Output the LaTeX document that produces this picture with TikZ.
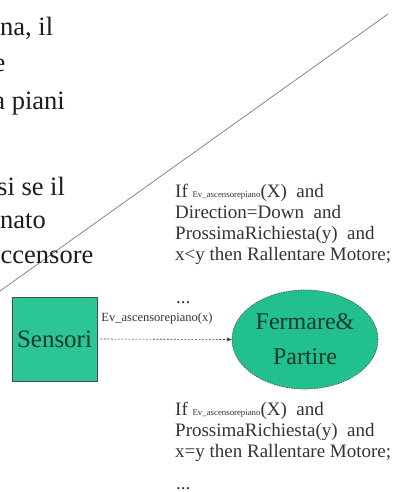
\documentclass[tikz,border=0pt]{standalone}
\usepackage{fontspec}
\setmainfont{Liberation Serif}
\usetikzlibrary{shapes.geometric,arrows.meta}
\definecolor{teal1}{HTML}{2BC596}
\definecolor{teal2}{HTML}{22C08F}
\definecolor{inkdark}{HTML}{1C1C1C}
\definecolor{inkgray}{HTML}{333333}
\definecolor{textgreen}{HTML}{12382A}
\definecolor{rulegray}{HTML}{7A7A7A}
\tikzset{
  bigtxt/.style={anchor=base west, inner sep=0pt, text=inkdark,
    font=\fontsize{26.5}{30}\selectfont},
  ruletxt/.style={anchor=base west, inner sep=0pt, text=inkgray,
    font=\fontsize{19}{22}\selectfont},
  sensorbox/.style={draw=black!70, fill=teal1, line width=0.6pt,
    minimum width=85pt, minimum height=84pt, inner sep=0pt,
    text=textgreen, font=\fontsize{25}{28}\selectfont},
  taskellipse/.style={ellipse, draw=black!65, dashed, dash pattern=on 1.5pt off 1pt,
    fill=teal2, line width=0.7pt, minimum width=146pt, minimum height=99pt,
    inner sep=0pt, align=center, text=textgreen,
    font=\fontsize{24}{35}\selectfont},
  eventarrow/.style={draw=black!75, dash pattern=on 2pt off 1.5pt, line width=0.6pt,
    -{Stealth[length=5pt,width=4pt]}},
  eventlabel/.style={inner sep=0pt, text=inkgray, font=\fontsize{12.5}{14}\selectfont},
}
\newcommand{\evsmall}{{\fontsize{8.8}{10}\selectfont Ev\_ascensorepiano}}
\begin{document}
\begin{tikzpicture}[x=1pt,y=-1pt]
  \useasboundingbox (0,0) rectangle (401,492);
  \clip (0,0) rectangle (401,492);
  \fill[white] (0,0) rectangle (401,492);

  % diagonal rule behind the text
  \coordinate (d1) at (0,291);
  \coordinate (d2) at (388,14);
  \draw[rulegray, line width=0.7pt] (d1) -- (d2);

  % slide text, cut at the left edge
  \node[bigtxt] (t1) at (0,36) {na, il};
  \node[bigtxt, anchor=base east] (t2) at (5.5,72) {e};
  \node[bigtxt, anchor=base east] (t3) at (65,110) {a piani};
  \node[bigtxt] (t4) at (-3,195) {si se il};
  \node[bigtxt] (t5) at (0,228) {nato};
  \node[bigtxt] (t6) at (0.5,263) {ccensore};

  % rule for the upper transition
  \node[ruletxt] (u1) at (175,197) {If \evsmall(X)\ \ and};
  \node[ruletxt] (u2) at (175,218) {Direction=Down\ \ and};
  \node[ruletxt] (u3) at (175,239) {ProssimaRichiesta(y)\ \ and};
  \node[ruletxt] (u4) at (175,260) {x<y then Rallentare Motore;};
  \node[ruletxt] (u5) at (176,303) {...};

  % sensors and task
  \node[sensorbox] (s) at (54.5,339) {Sensori};
  \node[taskellipse] (f) at (305,339.5) {Fermare\&\\Partire};
  \draw[eventarrow] ([xshift=3pt]s.east) -- (f.west);
  \node[eventlabel] (ev) at (157,318) {Ev\_ascensorepiano(x)};

  % rule for the lower transition
  \node[ruletxt] (b1) at (175,415) {If \evsmall(X)\ \ and};
  \node[ruletxt] (b2) at (175,436) {ProssimaRichiesta(y)\ \ and};
  \node[ruletxt] (b3) at (175,457) {x=y then Rallentare Motore;};
  \node[ruletxt] (b4) at (176,489) {...};
\end{tikzpicture}
\end{document}
